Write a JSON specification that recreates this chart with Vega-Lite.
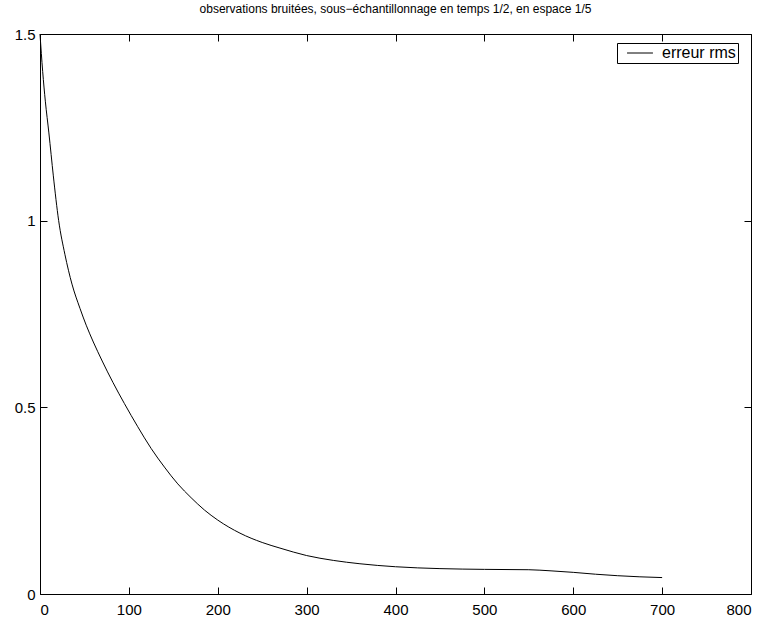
{
  "$schema": "https://vega.github.io/schema/vega-lite/v6.json",
  "width": 711,
  "height": 560,
  "autosize": "none",
  "padding": {"left": 40, "top": 34, "right": 16, "bottom": 30},
  "background": "white",
  "title": {
    "text": "observations bruitées, sous−échantillonnage en temps 1/2, en espace 1/5",
    "font": "Liberation Sans",
    "fontSize": 12,
    "fontWeight": "normal",
    "color": "black",
    "offset": 11
  },
  "config": {
    "view": {"stroke": null},
    "axis": {
      "labelFont": "Liberation Sans",
      "labelFontSize": 15,
      "labelColor": "black",
      "domainColor": "black",
      "tickColor": "black",
      "grid": false,
      "tickSize": -7,
      "title": null
    }
  },
  "data": {
    "values": [
      {"t": 0, "err": 1.5, "s": "erreur rms"},
      {"t": 3, "err": 1.4, "s": "erreur rms"},
      {"t": 6, "err": 1.32, "s": "erreur rms"},
      {"t": 10, "err": 1.235, "s": "erreur rms"},
      {"t": 15, "err": 1.12, "s": "erreur rms"},
      {"t": 21, "err": 1.0, "s": "erreur rms"},
      {"t": 28, "err": 0.91, "s": "erreur rms"},
      {"t": 36, "err": 0.83, "s": "erreur rms"},
      {"t": 45, "err": 0.765, "s": "erreur rms"},
      {"t": 52, "err": 0.72, "s": "erreur rms"},
      {"t": 60, "err": 0.675, "s": "erreur rms"},
      {"t": 70, "err": 0.624, "s": "erreur rms"},
      {"t": 82, "err": 0.567, "s": "erreur rms"},
      {"t": 95, "err": 0.51, "s": "erreur rms"},
      {"t": 110, "err": 0.448, "s": "erreur rms"},
      {"t": 125, "err": 0.39, "s": "erreur rms"},
      {"t": 140, "err": 0.34, "s": "erreur rms"},
      {"t": 155, "err": 0.295, "s": "erreur rms"},
      {"t": 170, "err": 0.258, "s": "erreur rms"},
      {"t": 185, "err": 0.225, "s": "erreur rms"},
      {"t": 200, "err": 0.198, "s": "erreur rms"},
      {"t": 225, "err": 0.163, "s": "erreur rms"},
      {"t": 250, "err": 0.138, "s": "erreur rms"},
      {"t": 270, "err": 0.123, "s": "erreur rms"},
      {"t": 300, "err": 0.103, "s": "erreur rms"},
      {"t": 330, "err": 0.09, "s": "erreur rms"},
      {"t": 360, "err": 0.081, "s": "erreur rms"},
      {"t": 400, "err": 0.073, "s": "erreur rms"},
      {"t": 450, "err": 0.068, "s": "erreur rms"},
      {"t": 500, "err": 0.066, "s": "erreur rms"},
      {"t": 550, "err": 0.065, "s": "erreur rms"},
      {"t": 575, "err": 0.062, "s": "erreur rms"},
      {"t": 600, "err": 0.058, "s": "erreur rms"},
      {"t": 625, "err": 0.053, "s": "erreur rms"},
      {"t": 650, "err": 0.049, "s": "erreur rms"},
      {"t": 675, "err": 0.046, "s": "erreur rms"},
      {"t": 700, "err": 0.044, "s": "erreur rms"}
    ]
  },
  "layer": [
    {
      "mark": {"type": "line", "strokeWidth": 1, "interpolate": "monotone"},
      "encoding": {
        "x": {"field": "t", "type": "quantitative",
              "scale": {"domain": [0, 800], "nice": false},
              "axis": {"orient": "bottom", "labelPadding": 15, "values": [0, 100, 200, 300, 400, 500, 600, 700, 800]}},
        "y": {"field": "err", "type": "quantitative",
              "scale": {"domain": [0, 1.5], "nice": false},
              "axis": {"orient": "left", "labelPadding": 12, "format": "~g", "values": [0, 0.5, 1, 1.5]}},
        "color": {"field": "s", "type": "nominal",
                  "scale": {"range": ["black"]},
                  "legend": {
                    "title": null,
                    "orient": "none",
                    "legendX": 577,
                    "legendY": 9,
                    "symbolType": "M-1.85,0H1.85",
                    "symbolSize": 196,
                    "symbolStrokeWidth": 1,
                    "symbolOffset": 13,
                    "labelFont": "Liberation Sans",
                    "labelFontSize": 16,
                    "labelColor": "black",
                    "strokeColor": "black",
                    "fillColor": "white",
                    "padding": 2,
                    "columnPadding": 0,
                    "labelOffset": 14
                  }}
      }
    },
    {
      "mark": {"type": "line", "strokeWidth": 0, "opacity": 0},
      "encoding": {
        "x": {"field": "t", "type": "quantitative",
              "axis": {"orient": "top", "labels": false, "values": [0, 100, 200, 300, 400, 500, 600, 700, 800]}},
        "y": {"field": "err", "type": "quantitative",
              "axis": {"orient": "right", "labels": false, "values": [0, 0.5, 1, 1.5]}}
      }
    }
  ],
  "resolve": {"axis": {"x": "independent", "y": "independent"}}
}
